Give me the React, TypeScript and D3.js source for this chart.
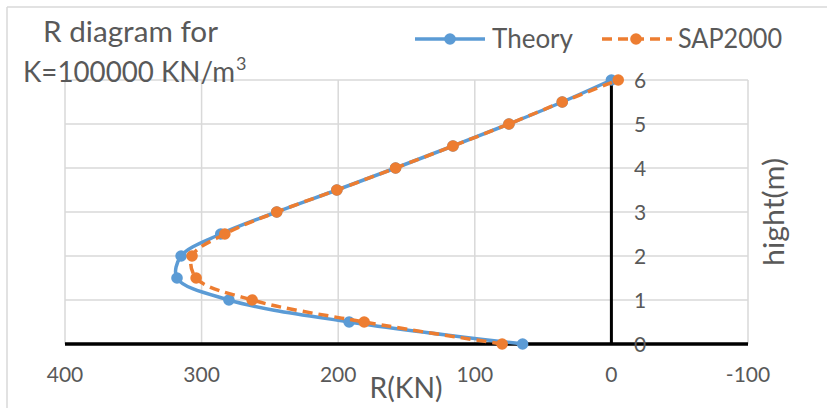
import React from "react";
import * as d3 from "d3";

const heights = [0, 0.5, 1, 1.5, 2, 2.5, 3, 3.5, 4, 4.5, 5, 5.5, 6];
const theoryR = [65, 192, 280, 318, 315, 286, 245, 201, 158, 116, 75, 36, 0];
const sapR = [80, 181, 263, 304, 307, 283, 245, 201, 158, 116, 75, 36, -5];
const xTicks = [400, 300, 200, 100, 0, -100];
const yTicks = [0, 1, 2, 3, 4, 5, 6];
const seriesNames = ["Theory", "SAP2000"];

const W = 827;
const H = 408;
const BLUE = "#5B9BD5";
const ORANGE = "#ED7D31";
const TXT = "#595959";
const FONT = "Lato, 'Open Sans', sans-serif";

export default function App() {
  const x = d3.scaleLinear().domain([400, -100]).range([65, 748]);
  const y = d3.scaleLinear().domain([0, 6]).range([344, 80]);

  const line = d3
    .line<[number, number]>()
    .x((d) => x(d[0]))
    .y((d) => y(d[1]))
    .curve(d3.curveCatmullRom.alpha(0.5));

  const tPts: [number, number][] = theoryR.map((r, i) => [r, heights[i]]);
  const sPts: [number, number][] = sapR.map((r, i) => [r, heights[i]]);

  return (
    <svg
      width={W}
      height={H}
      style={{ position: "absolute", left: 0, top: 0, background: "#fff" }}
      fontFamily={FONT}
    >
      <rect x={0} y={0} width={W} height={H} fill="#fff" />
      {/* chart frame */}
      <line x1={7} x2={W} y1={7} y2={7} stroke="#D9D9D9" strokeWidth={1.5} />
      <line x1={7} x2={7} y1={7} y2={H} stroke="#D9D9D9" strokeWidth={1.5} />

      {/* gridlines */}
      {yTicks.map((t) => (
        <line key={"hy" + t} x1={x(400)} x2={x(-100)} y1={y(t)} y2={y(t)} stroke="#D9D9D9" strokeWidth={1.5} />
      ))}
      {xTicks.map((t) => (
        <line key={"vx" + t} x1={x(t)} x2={x(t)} y1={y(6)} y2={y(0)} stroke="#D9D9D9" strokeWidth={1.5} />
      ))}

      {/* axes */}
      <line x1={x(400)} x2={x(-100)} y1={y(0)} y2={y(0)} stroke="#000" strokeWidth={3.5} />
      <line x1={x(0)} x2={x(0)} y1={y(6)} y2={y(0)} stroke="#000" strokeWidth={3} />

      {/* x tick labels */}
      {xTicks.map((t) => (
        <text key={"xt" + t} x={x(t)} y={382} textAnchor="middle" fontSize={21} fill={TXT}>
          {t}
        </text>
      ))}
      {/* y tick labels */}
      {yTicks.map((t) => (
        <text key={"yt" + t} x={634} y={y(t)} dy="0.36em" fontSize={21} fill={TXT}>
          {t}
        </text>
      ))}

      {/* series */}
      <path d={line(tPts) || ""} fill="none" stroke={BLUE} strokeWidth={3.5} strokeLinejoin="round" />
      {tPts.map((p, i) => (
        <circle key={"tp" + i} cx={x(p[0])} cy={y(p[1])} r={5.8} fill={BLUE} />
      ))}
      <path
        d={line(sPts) || ""}
        fill="none"
        stroke={ORANGE}
        strokeWidth={3.5}
        strokeDasharray="10,6"
        strokeLinejoin="round"
      />
      {sPts.map((p, i) => (
        <circle key={"sp" + i} cx={x(p[0])} cy={y(p[1])} r={5.8} fill={ORANGE} />
      ))}

      {/* title */}
      <text x={43} y={42} fontSize={28} fill={TXT} textLength={175} lengthAdjust="spacingAndGlyphs">
        R diagram for
      </text>
      <text x={23} y={82} fontSize={28} fill={TXT} textLength={212} lengthAdjust="spacingAndGlyphs">
        K=100000 KN/m
      </text>
      <text x={236} y={70} fontSize={18} fill={TXT}>
        3
      </text>

      {/* legend */}
      <line x1={415} x2={485} y1={39} y2={39} stroke={BLUE} strokeWidth={3.5} />
      <circle cx={450} cy={39} r={5.8} fill={BLUE} />
      <text x={492} y={48} fontSize={27} fill={TXT} textLength={81} lengthAdjust="spacingAndGlyphs">
        {seriesNames[0]}
      </text>
      <line x1={602} x2={672} y1={39} y2={39} stroke={ORANGE} strokeWidth={3.5} strokeDasharray="10,6" />
      <circle cx={636} cy={39} r={5.8} fill={ORANGE} />
      <text x={678} y={48} fontSize={27} fill={TXT} textLength={104} lengthAdjust="spacingAndGlyphs">
        {seriesNames[1]}
      </text>

      {/* axis titles */}
      <text x={406} y={398} textAnchor="middle" fontSize={29} fill={TXT} textLength={73} lengthAdjust="spacingAndGlyphs">
        R(KN)
      </text>
      <text
        transform="translate(784,212) rotate(-90)"
        textAnchor="middle"
        fontSize={29}
        fill={TXT}
        textLength={108}
        lengthAdjust="spacingAndGlyphs"
      >
        hight(m)
      </text>
    </svg>
  );
}
